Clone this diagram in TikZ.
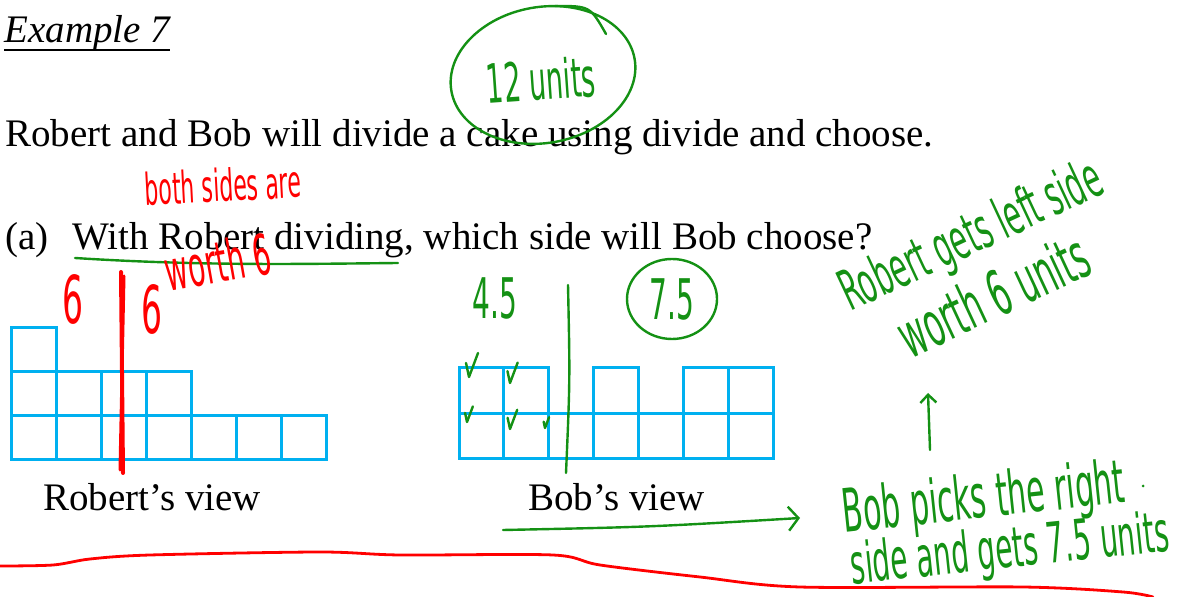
\documentclass[tikz,border=0pt]{standalone}
\usepackage{fontspec}
\setmainfont{Liberation Serif}
\newfontfamily\scrawlfont[FakeStretch=0.5]{DejaVu Sans}
\usetikzlibrary{arrows.meta}
\definecolor{cakeblue}{RGB}{0,176,240}
\definecolor{inkgreen}{RGB}{20,145,20}
\definecolor{inkred}{RGB}{255,0,0}
\tikzset{
  cell/.style={draw=cakeblue,line width=1.5pt},
  printed/.style={inner sep=0pt,anchor=base west,font=\fontsize{19.5}{23}\selectfont},
  scrawl/.style={inner sep=0pt,font=\scrawlfont\fontsize{#1}{#1}\selectfont},
  greenink/.style={inkgreen,line width=1.2pt,line cap=round,line join=round},
  redink/.style={inkred,line width=1.2pt,line cap=round,line join=round}
}

\begin{document}
\begin{tikzpicture}[x=.5pt,y=-.5pt]
\path[use as bounding box] (0,0) rectangle (1181,597);
% printed problem
\node[printed,font=\itshape\fontsize{19.5}{23}\selectfont] (title) at (4,43) {Example 7};
\draw[line width=.8pt] ([yshift=-3.5pt]title.base west) -- ([yshift=-3.5pt]title.base east);
\node[printed] (intro) at (5,147) {Robert and Bob will divide a cake using divide and choose.};
\node[printed] (parta) at (5,250) {(a)};
\node[printed] (question) at (72,250) {With Robert dividing, which side will Bob choose?};

% Robert's view
\draw[cell] (11,328) rectangle ++(45,44);
\foreach \c in {0,...,3}
  \draw[cell] (11+45*\c,372) rectangle ++(45,44);
\foreach \c in {0,...,6}
  \draw[cell] (11+45*\c,416) rectangle ++(45,44);
\node[printed] (robview) at (43,510) {Robert's view};

% Bob's view
\foreach \c in {0,1,3,5,6}
  \draw[cell] (459+44.9*\c,368) rectangle ++(44.9,46);
\foreach \c in {0,...,6}
  \draw[cell] (459+44.9*\c,414) rectangle ++(44.9,45);
\node[printed] (bobview) at (528,510) {Bob's view};

% red notes
\node[scrawl=22pt,inkred,rotate=3] (bothsides) at (223,185) {both sides are};
\draw[greenink] (75,258) .. controls (200,266) and (300,264) .. (398,263);
\node[scrawl=28pt,inkred,rotate=10] (worth) at (218,262) {worth 6};
\node[scrawl=33pt,inkred] (leftsix) at (73,299) {6};
\node[scrawl=33pt,inkred] (rightsix) at (152,309) {6};
\draw[redink,line width=2pt] (121,272) -- (123,473);
\draw[redink,line width=1.5pt] (124,276) -- (120,470);

% green notes
\node[scrawl=27pt,inkgreen,rotate=4] (twelve) at (541,80) {12 units};
\draw[greenink,rotate around={10:(543,75)}] (543,75) ellipse [x radius=93,y radius=68];
\draw[greenink] (555,6) .. controls (590,6) .. (606,34);
\node[scrawl=28pt,inkgreen] (lefttally) at (495,298) {4.5};
\node[scrawl=28pt,inkgreen] (righttally) at (672,299) {7.5};
\draw[greenink] (righttally) ellipse [x radius=45,y radius=40];
\draw[greenink] (568,285) .. controls (570,380) .. (566,473);
\foreach \x/\y/\s in {469/377/1, 510/383/.85, 467/422/.65, 510/429/.8, 545/428/.45}
  \draw[greenink] (\x-3*\s,\y-14*\s) -- (\x,\y) -- (\x+9*\s,\y-24*\s);

\node[scrawl=28pt,inkgreen,rotate=25] (robgets) at (972,238) {Robert gets left side};
\node[scrawl=31pt,inkgreen,rotate=25] (robworth) at (993,295) {worth 6 units};
\coordinate (upfoot) at (930,450);
\coordinate (uptip) at (928,393);
\draw[greenink,-{Straight Barb[length=4pt,width=8pt]}] (upfoot) -- (uptip);
\node[scrawl=30pt,inkgreen,rotate=6] (bobpicks) at (984,501) {Bob picks the right};
\fill[inkgreen] (1143,486) circle[radius=1.5];
\node[scrawl=28pt,inkgreen,rotate=6] (bobgets) at (1010,552) {side and gets 7.5 units};
\coordinate (arrowtail) at (503,530);
\coordinate (arrowtip) at (800,518);
\draw[greenink,-{Straight Barb[length=5pt,width=12pt]}] (arrowtail) .. controls (650,527) .. (arrowtip);

\draw[redink,line width=1.4pt] plot[smooth,tension=.5] coordinates {(0,566) (53,565) (90,559) (150,555) (320,552) (400,555) (553,555) (600,565) (700,577) (800,587) (1023,587) (1123,592) (1153,597)};
\end{tikzpicture}
\end{document}
